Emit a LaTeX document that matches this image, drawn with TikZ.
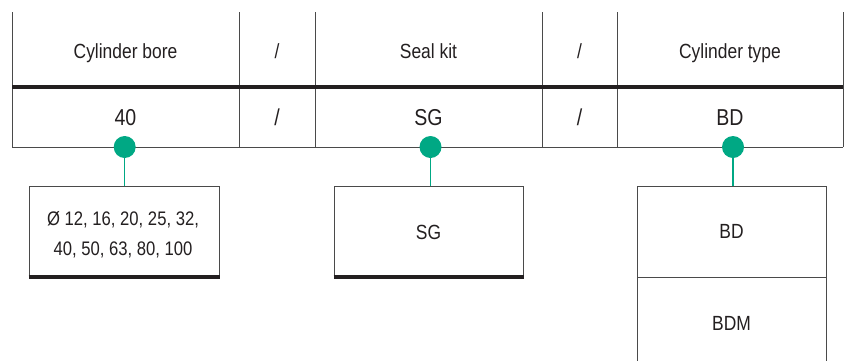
\documentclass[tikz,border=0pt]{standalone}
\usepackage{fontspec}
\setmainfont{Liberation Sans}[FakeStretch=0.85]
\definecolor{teal1}{HTML}{00A884}
\definecolor{ink}{HTML}{231F20}
\definecolor{rulecol}{HTML}{4A4A4A}
\begin{document}
\begin{tikzpicture}[x=1pt,y=-1pt,
  hdr/.style={anchor=base, font=\fontsize{20.5}{24}\selectfont, text=ink, inner sep=0pt},
  val/.style={anchor=base, font=\fontsize{23}{26}\selectfont, text=ink, inner sep=0pt},
  dotnode/.style={circle, fill=teal1, inner sep=0pt, minimum size=22pt},
  optbox/.style={draw=rulecol, line width=1pt, minimum width=190pt, minimum height=92pt,
    inner sep=0pt, font=\fontsize{20.5}{30}\selectfont, text=ink, align=center},
  listtext/.style={inner sep=0pt, font=\fontsize{19.6}{30}\selectfont, text=ink, align=center},
  tline/.style={draw=rulecol, line width=1pt},
  thick bar/.style={draw=ink, line width=4pt},
  link/.style={draw=teal1, line width=1.5pt}]
\useasboundingbox (0,0) rectangle (848,360);
\clip (0,0) rectangle (848,360);
% table grid
\foreach \x in {12,239,315,542,617,843} \draw[tline] (\x,12) -- (\x,147);
\draw[tline] (12,147) -- (843,147);
\draw[thick bar] (12,87.3) -- (843,87.3);
% header texts
\node[hdr] (h1) at (125.5,58) {Cylinder bore};
\node[hdr] (h2) at (277,58) {/};
\node[hdr] (h3) at (428.5,58) {Seal kit};
\node[hdr] (h4) at (579.5,58) {/};
\node[hdr] (h5) at (730,58) {Cylinder type};
% values
\node[val] (v1) at (125.5,125.5) {40};
\node[val] (v2) at (277,125.5) {/};
\node[val] (v3) at (428.5,125.5) {SG};
\node[val] (v4) at (579.5,125.5) {/};
\node[val] (v5) at (730,125.5) {BD};
% option boxes
\node[optbox] (b1) at (124,232) {};
\node[listtext] (b1t) at (123,234.5) {Ø 12, 16, 20, 25, 32,\\40, 50, 63, 80, 100};
\node[optbox, minimum width=189pt] (b2) at (428.5,232) {SG};
\node[optbox, minimum width=189pt, minimum height=91pt] (b3a) at (731.5,231.5) {BD};
\node[optbox, minimum width=189pt, minimum height=93pt] (b3b) at (731.5,323.5) {BDM};
\draw[thick bar] ([yshift=2pt]b1.south west) -- ([yshift=2pt]b1.south east);
\draw[thick bar] ([yshift=2pt]b2.south west) -- ([yshift=2pt]b2.south east);
% dots and links
\node[dotnode] (d1) at (124.7,147) {};
\node[dotnode] (d2) at (430.5,147) {};
\node[dotnode] (d3) at (733,147) {};
\draw[link] (d1.south) -- (d1.south |- b1.north);
\draw[link] (d2.south) -- (d2.south |- b2.north);
\draw[link] (d3.south) -- (d3.south |- b3a.north);
\end{tikzpicture}
\end{document}
